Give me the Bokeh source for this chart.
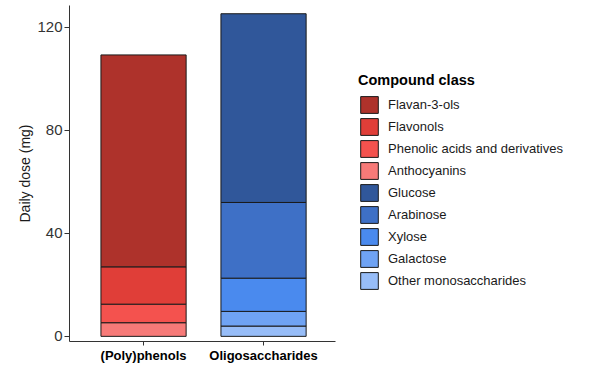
from bokeh.plotting import figure
from bokeh.models import ColumnDataSource, Range1d, FixedTicker, Legend, LegendItem
from bokeh.embed import file_html
from bokeh.resources import INLINE

categories = ["(Poly)phenols", "Oligosaccharides"]
cat_pos = [1, 2]

phenol_classes = ["Anthocyanins", "Phenolic acids and derivatives", "Flavonols", "Flavan-3-ols"]
phenol_values = [5.3, 7.2, 14.5, 82.3]
phenol_colors = ["#F77A78", "#F4524E", "#E03E38", "#AE322B"]

sugar_classes = ["Other monosaccharides", "Galactose", "Xylose", "Arabinose", "Glucose"]
sugar_values = [4.0, 5.7, 12.9, 29.4, 73.3]
sugar_colors = ["#97BDF8", "#6FA3F4", "#4A8AEE", "#3E70C6", "#30579A"]

y_ticks = [0, 40, 80, 120]

FONT = "Liberation Sans"

x_lo, x_axis_end = 0.383, 2.6
p = figure(width=574, height=365, output_backend="svg", toolbar_location=None,
           x_range=Range1d(x_lo, x_lo + 505 / 120), y_range=Range1d(-2, 128.5),
           min_border_left=69, min_border_right=0, min_border_top=5, min_border_bottom=22)
p.outline_line_color = None
p.xgrid.visible = False
p.ygrid.visible = False
p.background_fill_color = "white"

src_p = ColumnDataSource(dict(x=[cat_pos[0]], **{c: [v] for c, v in zip(phenol_classes, phenol_values)}))
src_s = ColumnDataSource(dict(x=[cat_pos[1]], **{c: [v] for c, v in zip(sugar_classes, sugar_values)}))

r_p = p.vbar_stack(phenol_classes, x="x", width=0.71, source=src_p, fill_color=phenol_colors,
                   line_color="#1a1a1a", line_width=1)
r_s = p.vbar_stack(sugar_classes, x="x", width=0.71, source=src_s, fill_color=sugar_colors,
                   line_color="#1a1a1a", line_width=1)

items = []
for name, r in reversed(list(zip(phenol_classes, r_p))):
    items.append(LegendItem(label=name, renderers=[r]))
for name, r in reversed(list(zip(sugar_classes, r_s))):
    items.append(LegendItem(label=name, renderers=[r]))

legend = Legend(items=items, location=(289, 50), title="Compound class",
                title_text_font=FONT, title_text_font_style="bold", title_text_font_size="14.5px",
                title_text_color="black", title_standoff=6,
                label_text_font=FONT, label_text_font_size="13px", label_text_color="#1a1a1a",
                glyph_width=22, glyph_height=21, label_height=21, spacing=1, label_standoff=8,
                padding=0, margin=0, border_line_alpha=0, background_fill_alpha=0)
p.add_layout(legend, "center")

p.yaxis.ticker = FixedTicker(ticks=y_ticks)
p.yaxis.minor_tick_line_color = None
p.yaxis.major_tick_in = 0
p.yaxis.major_tick_out = 5
p.yaxis.axis_line_color = "#333333"
p.yaxis.major_tick_line_color = "#333333"
p.yaxis.major_label_text_font = FONT
p.yaxis.major_label_text_font_size = "15px"
p.yaxis.major_label_text_color = "#333333"
p.yaxis.major_label_standoff = 2
p.yaxis.axis_label = "Daily dose (mg)"
p.yaxis.axis_label_text_font = FONT
p.yaxis.axis_label_text_font_size = "14px"
p.yaxis.axis_label_text_font_style = "normal"
p.yaxis.axis_label_text_color = "#1a1a1a"
p.yaxis.axis_label_standoff = 1

p.xaxis.ticker = FixedTicker(ticks=cat_pos)
p.xaxis.bounds = (x_lo, x_axis_end)
p.xaxis.major_label_overrides = {pos: lab for pos, lab in zip(cat_pos, categories)}
p.xaxis.minor_tick_line_color = None
p.xaxis.major_tick_in = 0
p.xaxis.major_tick_out = 4
p.xaxis.axis_line_color = "#333333"
p.xaxis.major_tick_line_color = "#333333"
p.xaxis.major_label_text_font = FONT
p.xaxis.major_label_text_font_size = "13px"
p.xaxis.major_label_text_font_style = "bold"
p.xaxis.major_label_text_color = "black"
p.xaxis.major_label_standoff = 2
p.xaxis.axis_label_standoff = 0

open("out.html", "w").write(file_html(p, INLINE))
